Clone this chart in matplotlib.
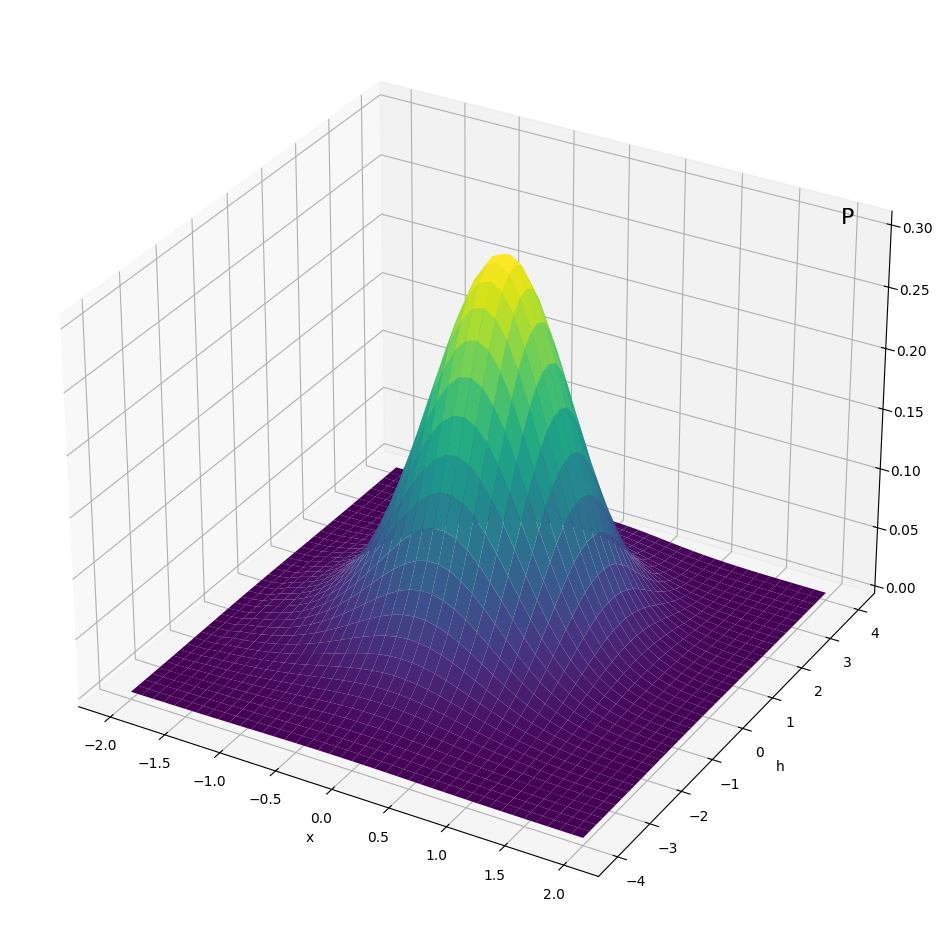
import numpy as np
import matplotlib
matplotlib.use("Agg")
import matplotlib.pyplot as plt

# values: main peak plus the low wide skirt towards negative h
main_height = 0.274
skirt_height = 0.050
x_vals = np.linspace(-2, 2, 41)
h_vals = np.linspace(-4, 4, 41)
x_half = [1, .982, .929, .847, .744, .630, .514, .404, .306, .224, .157,
          .107, .070, .044, .027, .016, .009, .0048, .0025, .0013, .0006]
x_main = x_half[:0:-1] + x_half
h_main = [.0005, .0009, .0016, .0029, .0051, .0086, .0143, .0228, .0355, .054, .080,
          .114, .159, .217, .286, .367, .458, .556, .657, .755, .844, .917, .969,
          .997, .996, .960, .893, .801, .693, .578, .465, .360, .270, .194, .135,
          .091, .065, .050, .042, .036, .030]
x_skirt = [.020, .035, .060, .135, .175, .223, .278, .340, .411, .487,
           .566, .647, .726, .801, .868, .923, .965, .991, 1, .991, .965, .923,
           .868, .801, .726, .647, .566, .487, .411, .340, .278, .223, .175, .135,
           .102, .077, .056, .040, .028, .020, .014]
h_skirt = [.033, .048, .070, .098, .135, .182, .239, .307, .384, .469, .560,
           .653, .744, .828, .899, .954, .988, 1, .988, .954, .899, .828, .744,
           .653, .560, .469, .384, .307, .239, .182, .135, .098, .070, .048, .033,
           .022, .014, .009, .006, .004, .002]

X, H = np.meshgrid(x_vals, h_vals)
P = main_height * np.outer(h_main, x_main) + skirt_height * np.outer(h_skirt, x_skirt)

fig = plt.figure(figsize=(9.44, 9.44), dpi=100)
ax = fig.add_subplot(projection="3d")
ax.set_position([0.0095, 0.0097, 0.98, 0.98])
ax.plot_surface(X, H, P, cmap="viridis", rcount=41, ccount=41)
ax.set_xlabel("x")
ax.set_ylabel("h")
fig.text(848 / 944, 1 - 218 / 944, "P", fontsize=16, ha="center", va="center")
fig.savefig("out.png", dpi=100)
